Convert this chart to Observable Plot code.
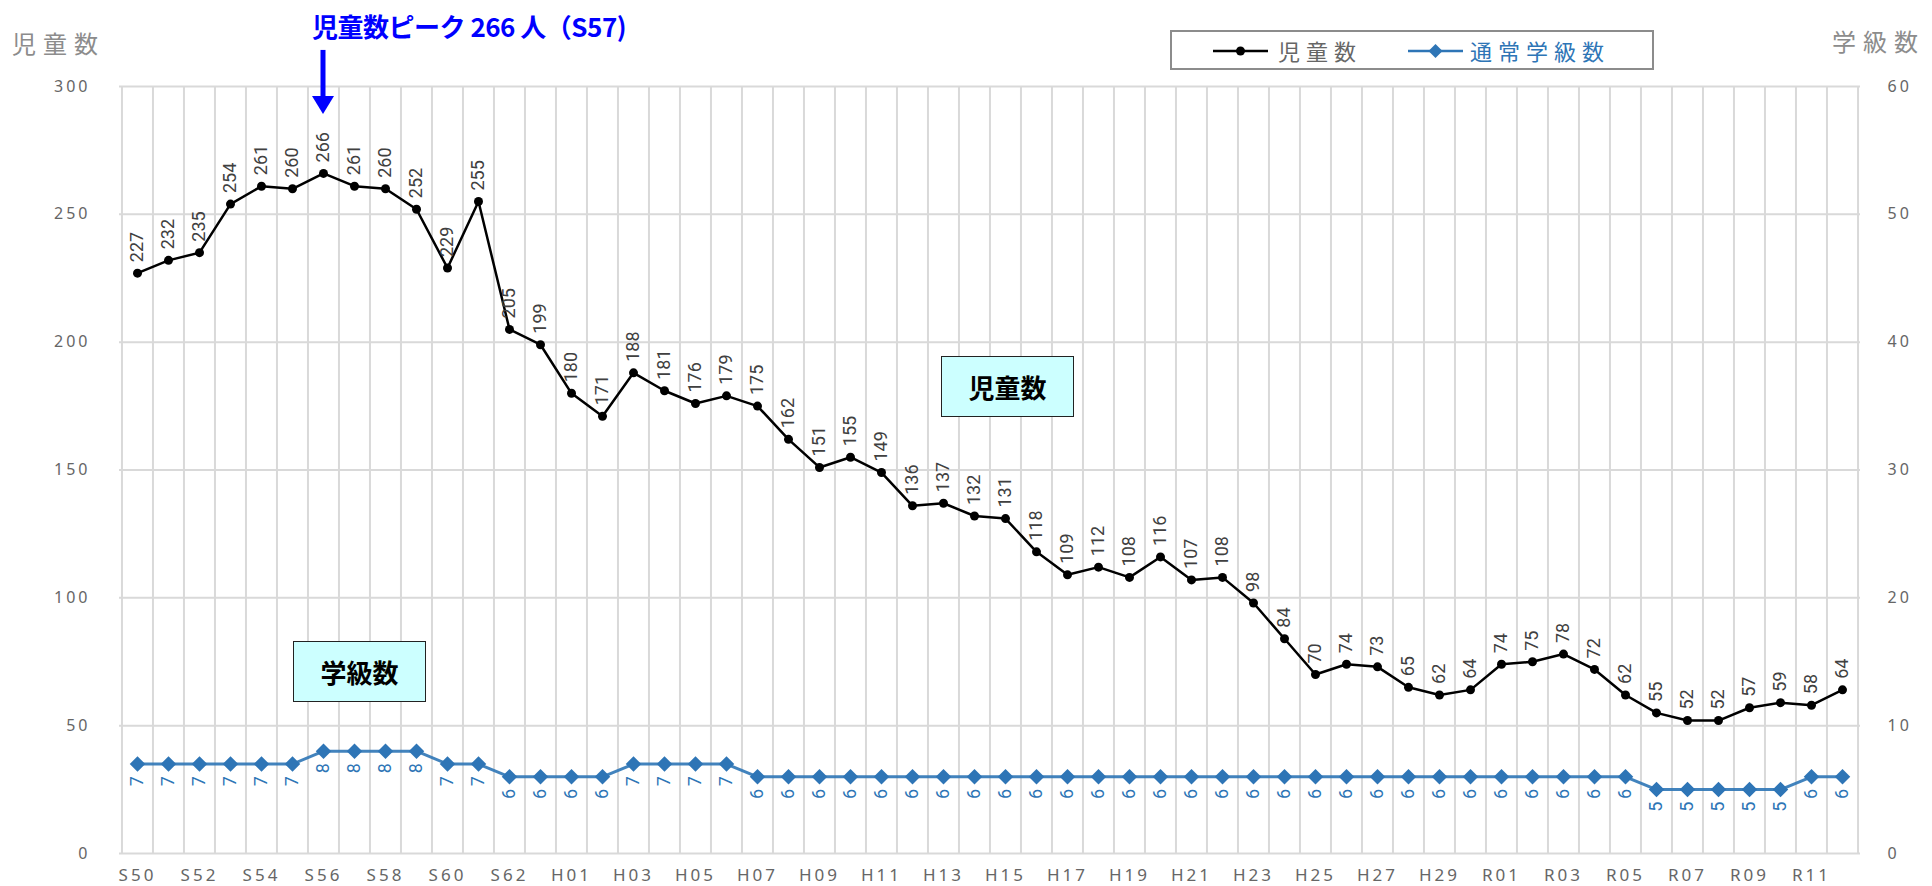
<!DOCTYPE html>
<html>
<head>
<meta charset="utf-8">
<script src="https://cdn.jsdelivr.net/npm/d3@7"></script>
<script src="https://cdn.jsdelivr.net/npm/@observablehq/plot@0.6"></script>
<style>
  body { margin: 0; background: #fff; }
  #wrap { position: relative; width: 1932px; height: 886px; overflow: hidden;
          font-family: "Noto Sans CJK JP", "Noto Sans", sans-serif; }
  #chart { position: absolute; left: 0; top: 0; }
  .abs { position: absolute; white-space: nowrap; }
  #title { left: 312px; top: 8px; font-size: 26px; line-height: 36px; font-weight: bold; color: #0000ff; letter-spacing: -0.5px; }
  .axtitle { font-size: 24px; line-height: 30px; color: #8c8c8c; letter-spacing: 7px; }
  #legend { left: 1170px; top: 30px; width: 480px; height: 36px; border: 2px solid #8c8c8c; background: #fff; }
  .legtext { position: absolute; top: 0; font-size: 22px; line-height: 36px; letter-spacing: 6px; }
  .note { background: #ccffff; border: 1.5px solid #222; font-weight: bold; font-size: 26px;
          color: #000; display: flex; align-items: center; justify-content: center; box-sizing: border-box; }
  g[aria-label$="tick label"] text { letter-spacing: 3px; }
</style>
</head>
<body>
<div id="wrap">
  <div id="chart"></div>
  <div id="title" class="abs">児童数ピーク 266 人（S57)</div>
  <div class="abs axtitle" style="left:12px; top:28px;">児童数</div>
  <div class="abs axtitle" style="left:1832px; top:26px;">学級数</div>
  <div id="legend" class="abs">
    <svg width="480" height="36" style="position:absolute;left:0;top:0">
      <line x1="41" x2="96" y1="19" y2="19" stroke="#000" stroke-width="2.5"/>
      <circle cx="68.5" cy="19" r="4.5" fill="#000"/>
      <line x1="236" x2="291" y1="19" y2="19" stroke="#2e75b6" stroke-width="2.5"/>
      <path d="M263.5,12 L270.5,19 L263.5,26 L256.5,19 Z" fill="#2e75b6"/>
    </svg>
    <div class="legtext" style="left:106px; color:#666666;">児童数</div>
    <div class="legtext" style="left:298px; color:#2e75b6;">通常学級数</div>
  </div>
  <div class="abs note" style="left:941px; top:356px; width:133px; height:61px;">児童数</div>
  <div class="abs note" style="left:293px; top:641px; width:133px; height:61px;">学級数</div>
</div>
<script>
// ---- data ----
const categories = [
  "S50","S51","S52","S53","S54","S55","S56","S57","S58","S59","S60","S61","S62","S63",
  "H01","H02","H03","H04","H05","H06","H07","H08","H09","H10","H11","H12","H13","H14","H15",
  "H16","H17","H18","H19","H20","H21","H22","H23","H24","H25","H26","H27","H28","H29","H30",
  "R01","R02","R03","R04","R05","R06","R07","R08","R09","R10","R11","R12"
];
const children = [
  227,232,235,254,261,260,266,261,260,252,229,255,205,199,
  180,171,188,181,176,179,175,162,151,155,149,136,137,132,131,
  118,109,112,108,116,107,108,98,84,70,74,73,65,62,64,
  74,75,78,72,62,55,52,52,57,59,58,64
];
const classes = [
  7,7,7,7,7,7,8,8,8,8,7,7,6,6,
  6,6,7,7,7,7,6,6,6,6,6,6,6,6,6,
  6,6,6,6,6,6,6,6,6,6,6,6,6,6,6,
  6,6,6,6,6,5,5,5,5,5,6,6
];
const leftTicks = [0, 50, 100, 150, 200, 250, 300];
const classScale = 5; // right axis 0-60 maps onto left 0-300
const xTickLabels = categories.filter((d, i) => i % 2 === 0);

const rows = categories.map((c, i) => ({cat: c, kids: children[i], cls: classes[i], clsY: classes[i] * classScale}));

// ---- layout ----
const W = 1932, H = 886;
const mL = 119, mR = 72, mT = 86, mB = 33;
const step = (W - mL - mR) / categories.length;
const black = "#000000", blue = "#2e75b6", grid = "#d9d9d9", axisText = "#666666";
const labelFont = "Roboto, 'Noto Sans', sans-serif";

const chart = Plot.plot({
  width: W, height: H,
  marginLeft: mL, marginRight: mR, marginTop: mT, marginBottom: mB,
  style: {fontFamily: "'Noto Sans', sans-serif", background: "transparent"},
  x: {type: "point", domain: categories, padding: 0.5, align: 0.5, axis: null},
  y: {domain: [0, 300], axis: null},
  marks: [
    Plot.gridY(leftTicks, {stroke: grid, strokeOpacity: 1, strokeWidth: 2}),
    Plot.ruleX(categories, {x: d => d, y1: 0, y2: 300, dx: -step / 2, stroke: grid, strokeWidth: 2}),
    Plot.ruleX([categories[categories.length - 1]], {x: d => d, y1: 0, y2: 300, dx: step / 2, stroke: grid, strokeWidth: 2}),
    Plot.axisY({anchor: "left", ticks: leftTicks, tickSize: 0, tickPadding: 29, fontSize: 16, color: axisText, label: null}),
    Plot.axisY({anchor: "right", ticks: leftTicks, tickFormat: d => d / classScale, tickSize: 0, tickPadding: 27, fontSize: 16, color: axisText, label: null}),
    Plot.axisX({ticks: xTickLabels, tickSize: 0, tickPadding: 15, fontSize: 17, color: axisText, label: null}),
    // class series
    Plot.line(rows, {x: "cat", y: "clsY", stroke: blue, strokeWidth: 3, strokeOpacity: 0.9}),
    Plot.dot(rows, {x: "cat", y: "clsY", symbol: "diamond2", r: 7, fill: blue}),
    Plot.text(rows, {x: "cat", y: "clsY", text: d => String(d.cls), rotate: -90, textAnchor: "end", dy: 12, fill: blue, fontSize: 18, fontFamily: labelFont}),
    // children series
    Plot.line(rows, {x: "cat", y: "kids", stroke: black, strokeWidth: 2.5}),
    Plot.dot(rows, {x: "cat", y: "kids", r: 4.5, fill: black}),
    Plot.text(rows, {x: "cat", y: "kids", text: d => String(d.kids), rotate: -90, textAnchor: "start", dy: -11, fill: "#404040", fontSize: 18, fontFamily: labelFont})
  ]
});
document.getElementById("chart").appendChild(chart);

// peak arrow, positioned from the plot's own scales
const peakIdx = children.indexOf(d3.max(children));
const px = chart.scale("x").apply(categories[peakIdx]);
const py = chart.scale("y").apply(children[peakIdx]);
const svg = d3.select(chart);
svg.append("line").attr("x1", px).attr("x2", px).attr("y1", py - 123).attr("y2", py - 74)
  .attr("stroke", "#0000ff").attr("stroke-width", 5);
svg.append("path")
  .attr("d", `M${px - 11},${py - 77} L${px + 11},${py - 77} L${px},${py - 59} Z`)
  .attr("fill", "#0000ff");
</script>
</body>
</html>
